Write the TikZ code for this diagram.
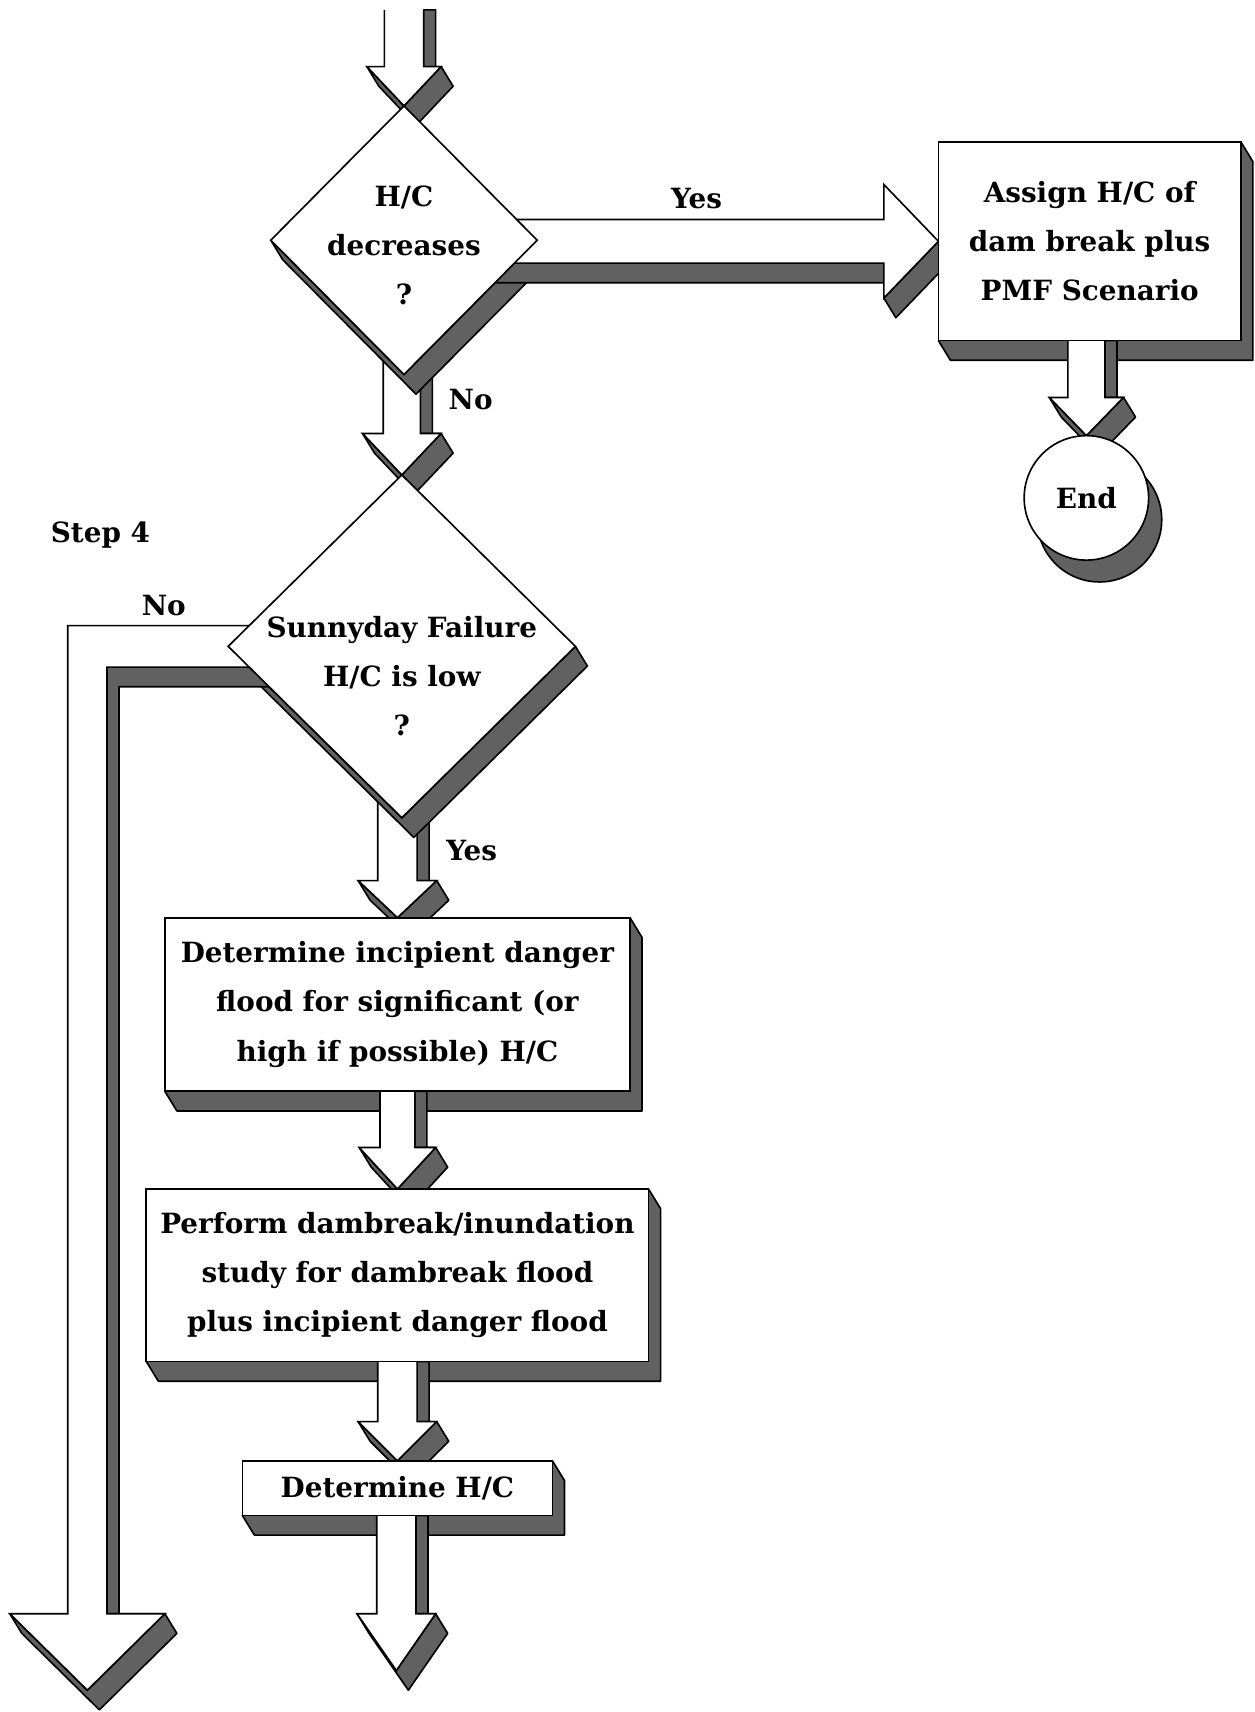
\documentclass[tikz,border=0pt]{standalone}
\usepackage{fontspec}
\setmainfont{DejaVu Serif}
\usetikzlibrary{shapes.geometric,calc,backgrounds}
\colorlet{penColor}{black}
\colorlet{shadeColor}{black!62}
\tikzset{
  txt/.style={font=\fontsize{25.5}{45}\selectfont\bfseries, align=center},
  box/.style={draw=penColor, fill=white, line width=1.5pt, inner sep=0pt, outer sep=0pt, txt},
  decision/.style={diamond, draw=penColor, fill=white, line width=1.5pt, inner sep=0pt, outer sep=0pt},
  extrude/.style={fill=shadeColor, draw=penColor, line width=1.5pt, line join=round},
  blockarrow/.style={fill=white, draw=penColor, line width=1.5pt, line join=miter},
}
\def\shx{11}
\def\shy{18}
% downward block arrow from #1 to the tip #2: shaft half width #3, head half width #4, head length #5
\newcommand{\blockdown}[5]{%
  \path[extrude] ($(#2|-#1)+(#3,0)$) -- ++(\shx,0) -- ($(#2)+(#3+\shx,-#5)$)
    -- ($(#2)+(#4,-#5)$) -- ++(\shx,\shy) -- ($(#2)+(\shx,\shy)$)
    -- ($(#2)+(-#4+\shx,-#5+\shy)$) -- ($(#2)+(-#4,-#5)$) -- (#2)
    -- ($(#2)+(#4,-#5)$) -- ($(#2)+(#3,-#5)$) -- cycle;
  \path[blockarrow] ($(#2|-#1)+(-#3,0)$) -- ($(#2)+(-#3,-#5)$) -- ($(#2)+(-#4,-#5)$)
    -- (#2) -- ($(#2)+(#4,-#5)$) -- ($(#2)+(#3,-#5)$) -- ($(#2|-#1)+(#3,0)$);
}
% block arrow to the right, same arguments
\newcommand{\blockright}[5]{%
  \path[extrude] ($(#1|-#2)+(0,#3)$) -- ++(0,\shy) -- ($(#2)+(-#5,#3+\shy)$)
    -- ($(#2)+(-#5,#4)$) -- ++(\shx,\shy) -- ($(#2)+(\shx,\shy)$) -- (#2)
    -- ($(#2)+(-#5,#4)$) -- ($(#2)+(-#5,#3)$) -- cycle;
  \path[blockarrow] ($(#1|-#2)+(0,-#3)$) -- ($(#2)+(-#5,-#3)$) -- ($(#2)+(-#5,-#4)$)
    -- (#2) -- ($(#2)+(-#5,#4)$) -- ($(#2)+(-#5,#3)$) -- ($(#1|-#2)+(0,#3)$);
}
\newcommand{\boxshade}[1]{%
  \path[extrude] (#1.north east) -- ++(\shx,\shy) -- ($(#1.south east)+(\shx,\shy)$)
    -- ($(#1.south west)+(\shx,\shy)$) -- (#1.south west) -- cycle;}
\newcommand{\diashade}[1]{%
  \path[extrude] (#1.west) -- ++(\shx,\shy) -- ($(#1.south)+(\shx,\shy)$)
    -- ($(#1.east)+(\shx,\shy)$) -- (#1.east) -- (#1.south) -- cycle;}

\begin{document}
\begin{tikzpicture}[x=1pt,y=-1pt]
  \useasboundingbox (0,0) rectangle (1149,1568);

  % nodes
  \coordinate (in) at (370,9);
  \node[decision, minimum width=244pt, minimum height=246pt,
        label={[txt,yshift=-5pt]center:H/C\\decreases\\?}] (d1) at (370,220) {};
  \node[box, minimum width=277pt, minimum height=182pt] (ab) at (998,221)
        {Assign H/C of\\dam break plus\\PMF Scenario};
  \node[circle, draw=penColor, fill=white, line width=1.5pt, outer sep=0pt,
        minimum size=114pt, txt] (end) at (995,456) {End};
  \node[decision, minimum width=318pt, minimum height=314pt,
        label={[txt,yshift=-27pt]center:Sunnyday Failure\\H/C is low\\?}] (d2) at (368,592) {};
  \node[box, minimum width=426pt, minimum height=159pt] (b3) at (364,920)
        {Determine incipient danger\\flood for significant (or\\high if possible) H/C};
  \node[box, minimum width=460pt, minimum height=158pt] (b4) at (364,1168)
        {Perform dambreak/inundation\\study for dambreak flood\\plus incipient danger flood};
  \node[box, minimum width=284pt, minimum height=50pt] (b5) at (364,1363) {Determine H/C};
  \coordinate (out) at (363,1530);
  \coordinate (noend) at (80,1548);

  % labels
  \node[txt] (step) at (92,490) {Step 4};
  \node[txt] (yes1) at (638,182) {Yes};
  \node[txt] (no1) at (431,366) {No};
  \node[txt] (no2) at (150,555) {No};
  \node[txt] (yes2) at (432,779) {Yes};

  % shadows and block arrows
  \begin{scope}[on background layer]
    \boxshade{ab} \boxshade{b3} \boxshade{b4} \boxshade{b5}
    \path[extrude] ($(end.center)+(12,20)$) circle[radius=57pt];
    \blockdown{in}{d1.north}{18}{34}{36}
    \blockdown{d1.center}{d2.north}{17}{36}{38}
    \blockdown{d2.center}{b3.north}{18}{36}{34}
    \blockdown{b3.south}{b4.north}{16}{35}{38}
    \blockdown{b4.south}{b5.north}{18}{36}{36}
    \blockdown{b5.south}{out}{18}{36}{52}
    \blockdown{ab.south}{end.north}{17}{34}{35}
    \diashade{d1} \diashade{d2}
    \blockright{d1.center}{ab.west}{20}{52}{50}
    % No branch: left, then down
    \path[extrude] ($(d2.center)+(0,19)$) -- ++(0,\shy)
      -- ($(noend|-d2.center)+(18+\shx,19+\shy)$) -- ($(noend)+(18+\shx,-70)$)
      -- ($(noend)+(71,-70)$) -- ++(\shx,\shy) -- ($(noend)+(\shx,\shy)$)
      -- ($(noend)+(-71+\shx,-70+\shy)$) -- ($(noend)+(-71,-70)$) -- (noend)
      -- ($(noend)+(71,-70)$) -- ($(noend)+(18,-70)$)
      -- ($(noend|-d2.center)+(18,19)$) -- cycle;
    \path[blockarrow] ($(d2.center)+(0,-19)$) -- ($(noend|-d2.center)+(-18,-19)$)
      -- ($(noend)+(-18,-70)$) -- ($(noend)+(-71,-70)$) -- (noend)
      -- ($(noend)+(71,-70)$) -- ($(noend)+(18,-70)$)
      -- ($(noend|-d2.center)+(18,19)$) -- ($(d2.center)+(0,19)$);
  \end{scope}
\end{tikzpicture}
\end{document}
